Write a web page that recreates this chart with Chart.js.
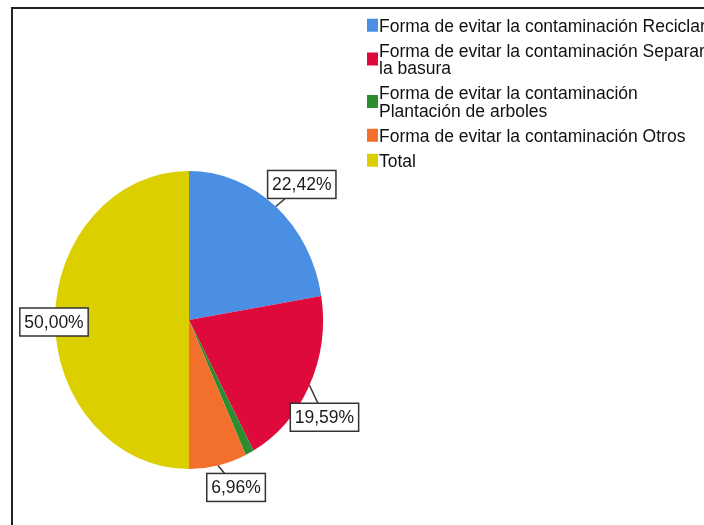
<!DOCTYPE html>
<html>
<head>
<meta charset="utf-8">
<script src="https://cdn.jsdelivr.net/npm/chart.js@4.4.1/dist/chart.umd.min.js"></script>
<style>
  html, body { margin: 0; padding: 0; background: #fff; }
  canvas { display: block; }
</style>
</head>
<body>
<canvas id="pieChart" width="704" height="525"></canvas>
<script>
const categories = [
  "Forma de evitar la contaminación Reciclar",
  "Forma de evitar la contaminación Separar la basura",
  "Forma de evitar la contaminación Plantación de arboles",
  "Forma de evitar la contaminación Otros",
  "Total"
];
const percentages = [22.42, 19.59, 1.03, 6.96, 50.00];
const colors = ["#4a8fe3", "#de0a3c", "#2c8c30", "#f2702c", "#dccf00"];

// value boxes: offset of the box centre from the rim point (null = no box)
const labelOffsets = [[26, -22], [15, 32], null, [18, 22], [-1, 2]];

const FONT = '17.5px "Liberation Sans", Arial, sans-serif';
const SQUASH = 134 / 149;   // pie is a bit narrower than it is tall

function fmt(v) {
  return v.toFixed(2).replace(".", ",") + "%";
}

// outer frame, only top and left edges show
const framePlugin = {
  id: "frame",
  beforeDraw(chart) {
    const ctx = chart.ctx;
    ctx.save();
    ctx.strokeStyle = "#222";
    ctx.lineWidth = 2;
    ctx.strokeRect(12, 8, 1000, 1000);
    ctx.restore();
  }
};

// flatten the pie horizontally around its centre
const squashPlugin = {
  id: "squash",
  beforeDatasetsDraw(chart) {
    const arc = chart.getDatasetMeta(0).data[0];
    const ctx = chart.ctx;
    ctx.save();
    ctx.translate(arc.x, 0);
    ctx.scale(SQUASH, 1);
    ctx.translate(-arc.x, 0);
  },
  afterDatasetsDraw(chart) {
    chart.ctx.restore();
  }
};

const valueBoxPlugin = {
  id: "valueBoxes",
  afterDraw(chart) {
    const ctx = chart.ctx;
    const meta = chart.getDatasetMeta(0);
    ctx.save();
    ctx.font = FONT;
    meta.data.forEach((arc, i) => {
      const off = labelOffsets[i];
      if (!off) return;
      const mid = (arc.startAngle + arc.endAngle) / 2;
      const ex = arc.x + Math.cos(mid) * arc.outerRadius * SQUASH;
      const ey = arc.y + Math.sin(mid) * arc.outerRadius;
      const cx = ex + off[0];
      const cy = ey + off[1];
      const text = fmt(percentages[i]);
      const w = ctx.measureText(text).width + 9;
      const h = 28;

      ctx.strokeStyle = "#333";
      ctx.lineWidth = 1.5;
      ctx.beginPath();
      ctx.moveTo(ex, ey);
      ctx.lineTo(cx, cy);
      ctx.stroke();

      ctx.fillStyle = "#fff";
      ctx.fillRect(cx - w / 2, cy - h / 2, w, h);
      ctx.strokeRect(cx - w / 2, cy - h / 2, w, h);

      ctx.fillStyle = "#1a1a1a";
      ctx.textAlign = "center";
      ctx.textBaseline = "middle";
      ctx.fillText(text, cx, cy + 1);
    });
    ctx.restore();
  }
};

function wrap(ctx, text, maxWidth) {
  const words = text.split(" ");
  const lines = [];
  let line = "";
  words.forEach(w => {
    const test = line ? line + " " + w : w;
    if (line && ctx.measureText(test).width > maxWidth) {
      lines.push(line);
      line = w;
    } else {
      line = test;
    }
  });
  if (line) lines.push(line);
  return lines;
}

// legend on the right, long names wrapped onto a second line
const legendPlugin = {
  id: "sideLegend",
  afterDraw(chart) {
    const ctx = chart.ctx;
    const markX = 367, textX = 379, maxW = 335;
    const lineH = 17.5, itemGap = 25, capH = 12.5;
    let base = 31.5;
    ctx.save();
    ctx.font = FONT;
    ctx.textAlign = "left";
    ctx.textBaseline = "alphabetic";
    categories.forEach((cat, i) => {
      const lines = wrap(ctx, cat, maxW);
      const top = base - capH;
      const bottom = base + lineH * (lines.length - 1);
      const mid = (top + bottom) / 2;
      ctx.fillStyle = colors[i];
      ctx.fillRect(markX, mid - 6.5, 11, 13);
      ctx.fillStyle = "#111";
      lines.forEach((ln, k) => ctx.fillText(ln, textX, base + k * lineH));
      base = bottom + itemGap;
    });
    ctx.restore();
  }
};

new Chart(document.getElementById("pieChart"), {
  type: "pie",
  data: {
    labels: categories,
    datasets: [{
      data: percentages,
      backgroundColor: colors,
      borderWidth: 0
    }]
  },
  options: {
    responsive: false,
    animation: false,
    layout: {
      padding: { left: 40, right: 366, top: 171, bottom: 56 }
    },
    plugins: {
      legend: { display: false },
      tooltip: { enabled: false }
    }
  },
  plugins: [framePlugin, squashPlugin, valueBoxPlugin, legendPlugin]
});
</script>
</body>
</html>
